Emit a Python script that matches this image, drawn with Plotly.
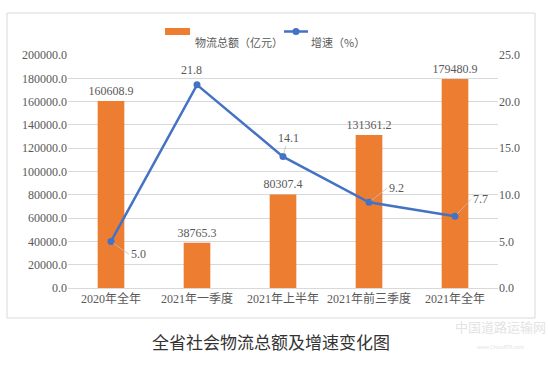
import plotly.graph_objects as go

categories = ["2020年全年", "2021年一季度", "2021年上半年", "2021年前三季度", "2021年全年"]
totals = [160608.9, 38765.3, 80307.4, 131361.2, 179480.9]
growth = [5.0, 21.8, 14.1, 9.2, 7.7]
bar_name = "物流总额（亿元）"
line_name = "增速（%）"
caption = "全省社会物流总额及增速变化图"

FONT = "Liberation Serif, Noto Sans CJK SC, serif"
GRAY = "#595959"
ORANGE = "#ED7D31"
BLUE = "#4472C4"

# plot area in pixels (for paper-coordinate helpers)
L, R, T, B = 68, 498, 55, 288
def px(xp): return (xp - L) / (R - L)
def py(yp): return (B - yp) / (B - T)

fig = go.Figure()
fig.add_trace(go.Bar(
    x=categories, y=totals, name=bar_name,
    marker=dict(color=ORANGE, line=dict(width=0)),
    text=[f"{v:.1f}" for v in totals], textposition="outside",
    constraintext="none",
    textfont=dict(size=12, color=GRAY, family=FONT), cliponaxis=False,
))
fig.add_trace(go.Scatter(
    x=categories, y=growth, name=line_name, yaxis="y2",
    mode="lines+markers",
    line=dict(color=BLUE, width=2.5),
    marker=dict(color=BLUE, size=7),
))

# line labels with leader offsets
offsets = [(18, 13), (-6, -15), (5, -19), (18, -14), (16, -17)]
arrows = [True, False, True, True, True]
for c, g, (ax, ay), arr in zip(categories, growth, offsets, arrows):
    if arr:
        fig.add_annotation(
            x=c, y=g, xref="x", yref="y2", text=f"{g:.1f}",
            showarrow=True, arrowhead=0, arrowwidth=0.8, arrowcolor="#BFBFBF",
            ax=ax, ay=ay, xanchor="left" if ax > 10 else "center",
            font=dict(size=12, color=GRAY, family=FONT), standoff=3,
        )
    else:
        fig.add_annotation(
            x=c, y=g, xref="x", yref="y2", text=f"{g:.1f}",
            showarrow=False, xshift=ax, yshift=-ay,
            font=dict(size=12, color=GRAY, family=FONT),
        )

# manual legend
fig.add_shape(type="rect", xref="paper", yref="paper",
              x0=px(165), x1=px(190), y0=py(35), y1=py(28),
              fillcolor=ORANGE, line=dict(width=0))
fig.add_annotation(x=px(193), y=py(31.5), xref="paper", yref="paper", text=bar_name,
                   showarrow=False, xanchor="left",
                   font=dict(size=11, color=GRAY, family="Noto Sans CJK SC"))
fig.add_shape(type="line", xref="paper", yref="paper",
              x0=px(284), x1=px(308), y0=py(31.5), y1=py(31.5),
              line=dict(color=BLUE, width=2.5))
fig.add_shape(type="circle", xref="paper", yref="paper",
              x0=px(292.5), x1=px(299.5), y0=py(35), y1=py(28),
              fillcolor=BLUE, line=dict(width=0))
fig.add_annotation(x=px(309), y=py(31.5), xref="paper", yref="paper", text=line_name,
                   showarrow=False, xanchor="left",
                   font=dict(size=11, color=GRAY, family="Noto Sans CJK SC"))

fig.add_annotation(
    x=px(271), y=py(356), xref="paper", yref="paper", text=caption,
    showarrow=False, xanchor="center",
    font=dict(size=17, color="#333333", family="Noto Sans CJK SC"),
)
fig.add_annotation(
    x=px(500), y=py(352), xref="paper", yref="paper", xanchor="center",
    text="中国道路运输网<br><span style='font-size:5px'>www.ChinaRTA.com</span>",
    showarrow=False, font=dict(size=13, color="#E3E3E3", family="Noto Sans CJK SC"),
)

fig.add_shape(type="rect", xref="paper", yref="paper",
              x0=px(7), x1=px(535), y0=py(318), y1=py(13),
              line=dict(color="#D9D9D9", width=1), fillcolor="rgba(0,0,0,0)")

fig.update_layout(
    width=550, height=369,
    margin=dict(l=L, r=550 - R, t=T, b=369 - B),
    paper_bgcolor="white", plot_bgcolor="white",
    bargap=0.69,
    font=dict(family=FONT, color=GRAY, size=11),
    showlegend=False,
    xaxis=dict(showgrid=False, showline=True, linecolor="#D9D9D9", ticks="",
               automargin=False,
               tickfont=dict(size=12, color=GRAY, family=FONT)),
    yaxis=dict(range=[0, 200000], dtick=20000, tickformat=".1f", automargin=False,
               showgrid=True, gridcolor="#D9D9D9", gridwidth=1, zeroline=False,
               showline=False, ticks="", tickfont=dict(size=12, color=GRAY, family=FONT)),
    yaxis2=dict(range=[0, 25], dtick=5, tickformat=".1f", overlaying="y", side="right",
                automargin=False,
                showgrid=False, zeroline=False, showline=False, ticks="",
                tickfont=dict(size=12, color=GRAY, family=FONT)),
)

fig.write_html("out.html", config={"displayModeBar": False},
               post_script="document.body.style.margin='0';document.body.style.overflow='hidden';")
